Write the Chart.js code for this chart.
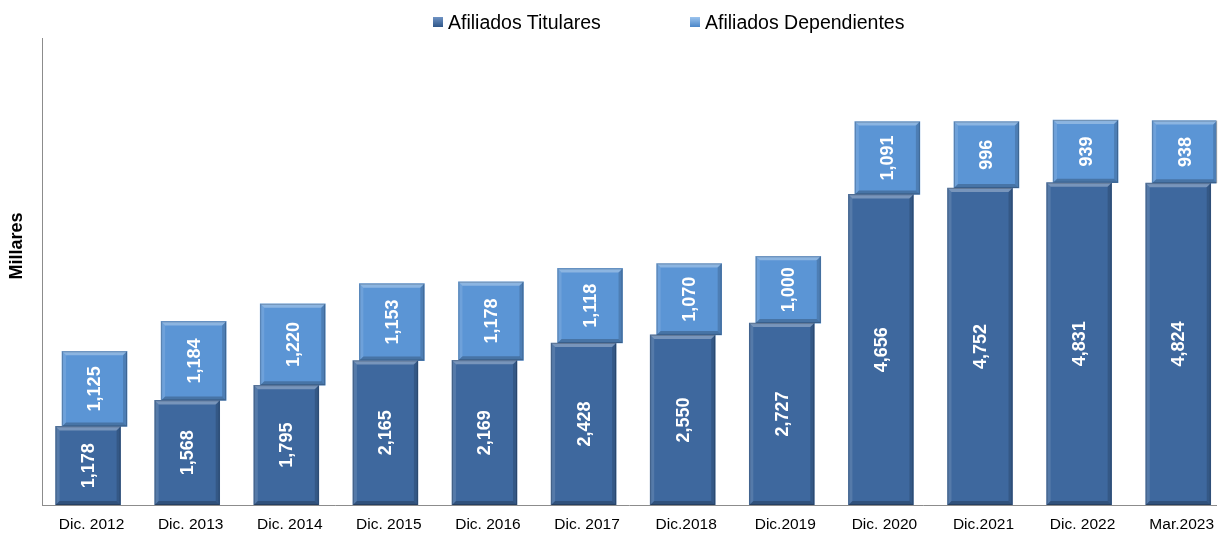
<!DOCTYPE html>
<html>
<head>
<meta charset="utf-8">
<script src="https://cdn.jsdelivr.net/npm/chart.js@4.4.1/dist/chart.umd.min.js"></script>
<style>
  body { margin: 0; background: #fff; font-family: "Liberation Sans", Arial, sans-serif; }
  #wrap { position: relative; width: 1224px; height: 534px; }
  .leg { position: absolute; top: 10px; font-size: 19.5px; line-height: 24px; color: #000; white-space: nowrap; }
  .leg i { display: inline-block; width: 10px; height: 10px; margin-right: 5px; vertical-align: 2px; }
</style>
</head>
<body>
<div id="wrap">
  <canvas id="barChart"></canvas>
  <div class="leg" style="left:433px"><i style="background:linear-gradient(#6f93c4,#2f5688)"></i>Afiliados Titulares</div>
  <div class="leg" style="left:690px"><i style="background:linear-gradient(#9cc4ee,#4a86c8)"></i>Afiliados Dependientes</div>
</div>
<script>
// values (thousands)
const categories = ["Dic. 2012", "Dic. 2013", "Dic. 2014", "Dic. 2015", "Dic. 2016", "Dic. 2017",
  "Dic.2018", "Dic.2019", "Dic. 2020", "Dic.2021", "Dic. 2022", "Mar.2023"];
const titulares = [1178, 1568, 1795, 2165, 2169, 2428, 2550, 2727, 4656, 4752, 4831, 4824];
const dependientes = [1125, 1184, 1220, 1153, 1178, 1118, 1070, 1000, 1091, 996, 939, 938];
const yMax = 7000;

const darkBlue = "#3e689e";
const lightBlue = "#5b95d5";

// fake 3D bevel on each bar, drawn right after its dataset so overlaps stay correct
const bevelPlugin = {
  id: "bevel",
  afterDatasetDraw(chart, args) {
    const ctx = chart.ctx;
    const b = 4;
    args.meta.data.forEach((bar) => {
      const p = bar.getProps(["x", "y", "base", "width"], true);
      const l = p.x - p.width / 2, r = p.x + p.width / 2;
      const t = Math.min(p.y, p.base), bo = Math.max(p.y, p.base);
      const poly = (pts, color) => {
        ctx.beginPath();
        ctx.moveTo(pts[0][0], pts[0][1]);
        pts.slice(1).forEach((q) => ctx.lineTo(q[0], q[1]));
        ctx.closePath();
        ctx.fillStyle = color;
        ctx.fill();
      };
      ctx.save();
      poly([[l, t], [r, t], [r - b, t + b], [l + b, t + b]], "rgba(255,255,255,0.3)");
      poly([[l, t], [l + b, t + b], [l + b, bo - b], [l, bo]], "rgba(255,255,255,0.12)");
      poly([[r, t], [r, bo], [r - b, bo - b], [r - b, t + b]], "rgba(0,0,0,0.15)");
      poly([[l, bo], [r, bo], [r - b, bo - b], [l + b, bo - b]], "rgba(0,0,0,0.22)");
      ctx.strokeStyle = "rgba(0,0,0,0.2)";
      ctx.lineWidth = 1;
      ctx.strokeRect(l + 0.5, t + 0.5, p.width - 1, bo - t - 1);
      ctx.restore();
    });
  },
};

// rotated white value labels + the "Millares" axis title
const labelPlugin = {
  id: "valueLabels",
  afterDatasetsDraw(chart) {
    const ctx = chart.ctx;
    ctx.save();
    ctx.fillStyle = "#fff";
    ctx.font = "bold 18px 'Liberation Sans', Arial, sans-serif";
    ctx.textAlign = "center";
    ctx.textBaseline = "middle";
    chart.data.datasets.forEach((ds, di) => {
      const vals = di === 0 ? titulares : dependientes;
      chart.getDatasetMeta(di).data.forEach((bar, i) => {
        const p = bar.getProps(["x", "y", "base"], true);
        ctx.save();
        ctx.translate(p.x, (p.y + p.base) / 2);
        ctx.rotate(-Math.PI / 2);
        ctx.fillText(vals[i].toLocaleString("en-US"), 0, 1);
        ctx.restore();
      });
    });
    ctx.fillStyle = "#000";
    ctx.translate(17, 246);
    ctx.rotate(-Math.PI / 2);
    ctx.fillText("Millares", 0, 0);
    ctx.restore();
  },
};

const ctx = document.getElementById("barChart").getContext("2d");
const chart = new Chart(ctx, {
  type: "bar",
  data: {
    datasets: [
      {
        label: "Afiliados Titulares",
        data: categories.map((c, i) => ({ x: i - 0.035, y: titulares[i] })),
        backgroundColor: darkBlue,
      },
      {
        label: "Afiliados Dependientes",
        data: categories.map((c, i) => ({ x: i + 0.03, y: [titulares[i], titulares[i] + dependientes[i]] })),
        backgroundColor: lightBlue,
      },
    ],
  },
  options: {
    responsive: true,
    maintainAspectRatio: false,
    animation: false,
    barThickness: 65,
    grouped: false,
    borderWidth: 0,
    layout: { padding: { top: 38, right: 0, left: 0, bottom: 0 } },
    scales: {
      x: {
        type: "linear",
        offset: false,
        min: -0.5,
        max: 11.35,
        grid: { display: false, drawTicks: false },
        border: { display: true, color: "#8c8c8c" },
        afterBuildTicks: (s) => { s.ticks = categories.map((c, i) => ({ value: i })); },
        afterFit: (s) => { s.height = 29; },
        ticks: {
          autoSkip: false,
          maxRotation: 0,
          padding: 10,
          color: "#000",
          font: { family: "'Liberation Sans', Arial, sans-serif", size: 15.5 },
          callback: (v) => categories[v] ?? "",
        },
      },
      y: {
        min: 0,
        max: yMax,
        grid: { display: false, drawTicks: false },
        border: { display: true, color: "#8c8c8c" },
        ticks: { display: false },
        afterFit: (s) => { s.width = 42; },
      },
    },
    plugins: {
      legend: { display: false },
      tooltip: { enabled: false },
    },
  },
  plugins: [bevelPlugin, labelPlugin],
});
</script>
</body>
</html>
